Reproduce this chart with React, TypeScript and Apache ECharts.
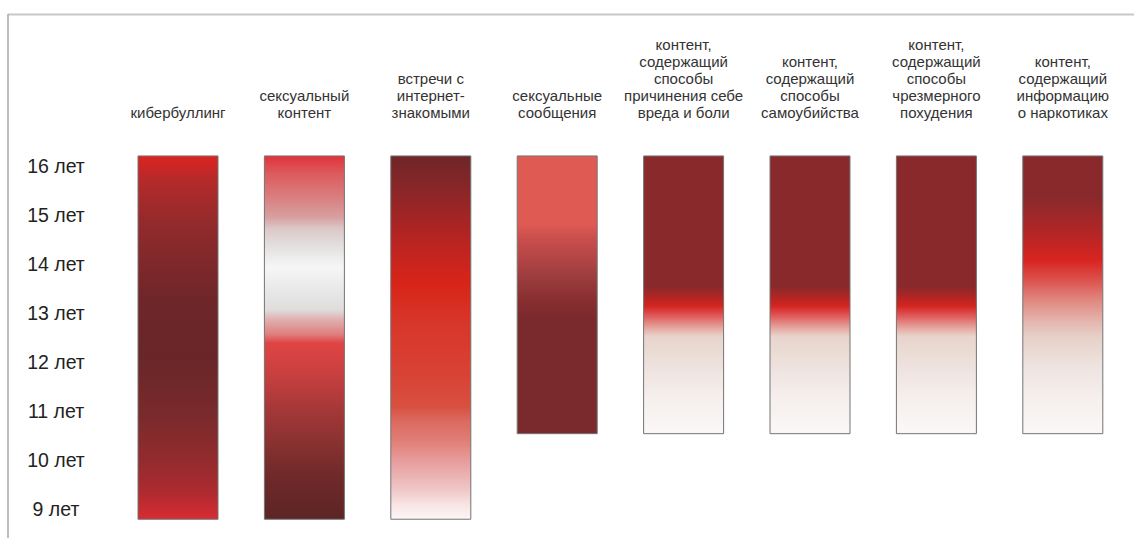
import React, { useEffect, useRef } from "react";
import * as echarts from "echarts";

// ---- data ----
const categories = [
  "кибербуллинг",
  "сексуальный\nконтент",
  "встречи с\nинтернет-\nзнакомыми",
  "сексуальные\nсообщения",
  "контент,\nсодержащий\nспособы\nпричинения себе\nвреда и боли",
  "контент,\nсодержащий\nспособы\nсамоубийства",
  "контент,\nсодержащий\nспособы\nчрезмерного\nпохудения",
  "контент,\nсодержащий\nинформацию\nо наркотиках",
];
// age range (years) covered by each bar
const startAge = [8.77, 8.77, 8.77, 10.52, 10.52, 10.52, 10.52, 10.52];
const endAge = [16.22, 16.22, 16.22, 16.22, 16.22, 16.22, 16.22, 16.22];
// age tick labels
const ageTicks = [9, 10, 11, 12, 13, 14, 15, 16];
const ageSuffix = " лет";

// ---- styles ----
const selfHarmStops: [number, string][] = [
  [0, "#8a292c"], [0.47, "#8a292c"], [0.5, "#a82624"], [0.54, "#d42420"],
  [0.58, "#e06060"], [0.62, "#e4a8a0"], [0.65, "#e8d4cc"], [0.76, "#eee2de"],
  [0.86, "#f5eeec"], [1, "#faf8f7"],
];
const gradientStops: [number, string][][] = [
  [
    [0, "#dc2420"], [0.07, "#b32a2a"], [0.2, "#8f2a2c"], [0.4, "#6e2629"],
    [0.55, "#692628"], [0.72, "#7a2a2c"], [0.85, "#962b2e"], [0.93, "#b02a30"],
    [1, "#d82c33"],
  ],
  [
    [0, "#e3313a"], [0.047, "#dc5a5c"], [0.11, "#da7c7e"], [0.17, "#d8a0a0"],
    [0.2, "#dcc8c8"], [0.25, "#e4e0e0"], [0.306, "#f6f6f6"], [0.37, "#e8e8e8"],
    [0.424, "#e0dcdc"], [0.45, "#e0b0b0"], [0.49, "#e08080"], [0.515, "#e04444"],
    [0.6, "#c84040"], [0.69, "#a83838"], [0.78, "#8c3232"], [0.87, "#722a2a"],
    [1, "#5c2426"],
  ],
  [
    [0, "#6e2628"], [0.094, "#8a2628"], [0.185, "#a82424"], [0.26, "#c02420"],
    [0.35, "#d82418"], [0.46, "#d8362a"], [0.6, "#d84234"], [0.69, "#d85040"],
    [0.73, "#dc6a60"], [0.78, "#e07c74"], [0.846, "#e8a0a0"], [0.92, "#f0c8c8"],
    [0.96, "#f8e4e4"], [1, "#fcf6f6"],
  ],
  [
    [0, "#e05a54"], [0.245, "#e05a54"], [0.3, "#c84e4c"], [0.38, "#b04444"],
    [0.45, "#983a3c"], [0.52, "#882e30"], [0.59, "#7a292d"], [1, "#7a292d"],
  ],
  selfHarmStops,
  selfHarmStops,
  selfHarmStops,
  [
    [0, "#8a292c"], [0.15, "#8a292c"], [0.27, "#b02626"], [0.375, "#d82420"],
    [0.45, "#dc5450"], [0.52, "#e08880"], [0.6, "#e4b8b0"], [0.65, "#e6d0c8"],
    [0.75, "#eee2de"], [0.86, "#f5eeec"], [1, "#faf8f7"],
  ],
];

const FONT = "'Liberation Sans', Arial, sans-serif";

export default function App() {
  const ref = useRef<HTMLDivElement>(null);

  useEffect(() => {
    if (!ref.current) return;
    const chart = echarts.init(ref.current, null, { renderer: "svg" });

    const rangeData = categories.map((_, i) => ({
      value: +(endAge[i] - startAge[i]).toFixed(4),
      itemStyle: {
        color: new echarts.graphic.LinearGradient(
          0, 0, 0, 1,
          gradientStops[i].map(([offset, color]) => ({ offset, color }))
        ),
        borderColor: "#747474",
        borderWidth: 1,
      },
    }));

    chart.setOption({
      animation: false,
      backgroundColor: "#ffffff",
      graphic: [
        {
          type: "line",
          shape: { x1: 8, y1: 14.5, x2: 1134, y2: 14.5 },
          style: { stroke: "#c8c8c8", lineWidth: 2 },
          silent: true,
        },
        {
          type: "line",
          shape: { x1: 8, y1: 14, x2: 8, y2: 620 },
          style: { stroke: "#a8a8a8", lineWidth: 1.5 },
          silent: true,
        },
      ],
      grid: { left: 114.8, width: 1011.2, top: 117.3, height: 440.1 },
      xAxis: {
        type: "category",
        position: "top",
        data: categories,
        axisLine: { show: false },
        axisTick: { show: false },
        splitLine: { show: false },
        axisLabel: {
          interval: 0,
          margin: -4,
          fontSize: 15,
          lineHeight: 17,
          color: "#333333",
          fontFamily: FONT,
          align: "center",
        },
      },
      yAxis: {
        type: "value",
        min: 8,
        max: 17,
        interval: 1,
        axisLine: { show: false },
        axisTick: { show: false },
        splitLine: { show: false },
        axisLabel: {
          margin: 58.8,
          align: "center",
          fontSize: 19.5,
          color: "#222222",
          fontFamily: FONT,
          formatter: (v: number) =>
            ageTicks.indexOf(v) >= 0 ? `${v}${ageSuffix}` : "",
        },
      },
      series: [
        {
          type: "bar",
          stack: "age",
          barWidth: 81,
          silent: true,
          itemStyle: { color: "rgba(0,0,0,0)" },
          data: startAge,
        },
        {
          type: "bar",
          stack: "age",
          barWidth: 81,
          data: rangeData,
        },
      ],
    });

    return () => chart.dispose();
  }, []);

  return (
    <div
      ref={ref}
      style={{ position: "fixed", left: 0, top: 0, width: 1134, height: 620 }}
    />
  );
}
